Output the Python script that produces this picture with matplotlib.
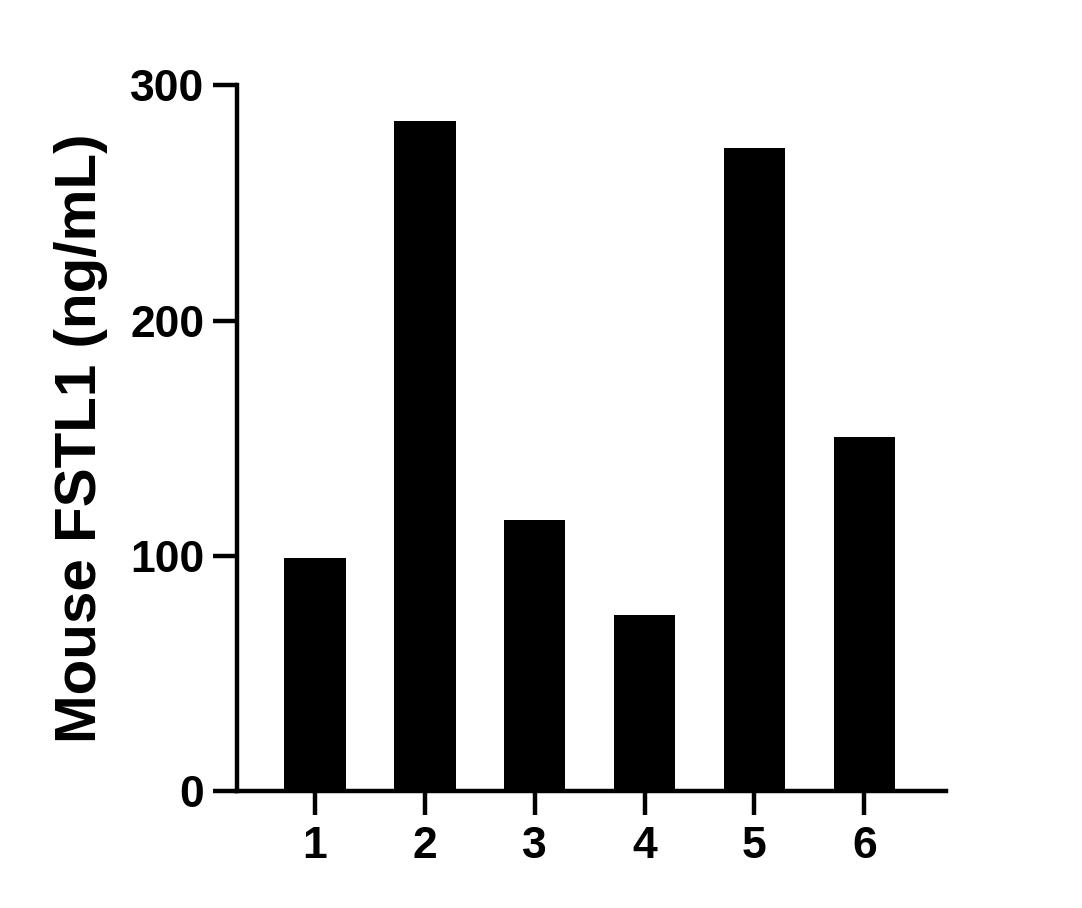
import matplotlib
matplotlib.use("Agg")
import matplotlib.pyplot as plt

categories = ["1", "2", "3", "4", "5", "6"]
values = [99, 284.7, 115.2, 74.8, 273.3, 150.4]
yticks = [0, 100, 200, 300]
ylabel = "Mouse FSTL1 (ng/mL)"

plt.rcParams['font.family'] = ['Liberation Sans', 'DejaVu Sans']
plt.rcParams['font.weight'] = 'bold'

fig = plt.figure(figsize=(10.82, 9.08), dpi=100)
ax = fig.add_axes([0.219, 0.129, 0.655, 0.777])
x = list(range(1, len(categories) + 1))
ax.bar(x, values, width=0.56, color='black', edgecolor='black', linewidth=0)
ax.set_xlim(1 - 0.71, 6 + 0.74)
ax.set_ylim(0, 300)
ax.set_xticks(x)
ax.set_xticklabels(categories)
ax.set_yticks(yticks)
for s in ['top', 'right']:
    ax.spines[s].set_visible(False)
for s in ['left', 'bottom']:
    ax.spines[s].set_linewidth(3.2)
ax.tick_params(axis='both', width=3.2, length=17.5, labelsize=32, direction='out')
ax.tick_params(axis='y', pad=6)
ax.tick_params(axis='x', pad=8)
for lab in ax.get_xticklabels() + ax.get_yticklabels():
    lab.set_fontweight('bold')
ax.set_ylabel(ylabel, fontsize=42, fontweight='bold', labelpad=16)
fig.savefig("out.png", dpi=100)
